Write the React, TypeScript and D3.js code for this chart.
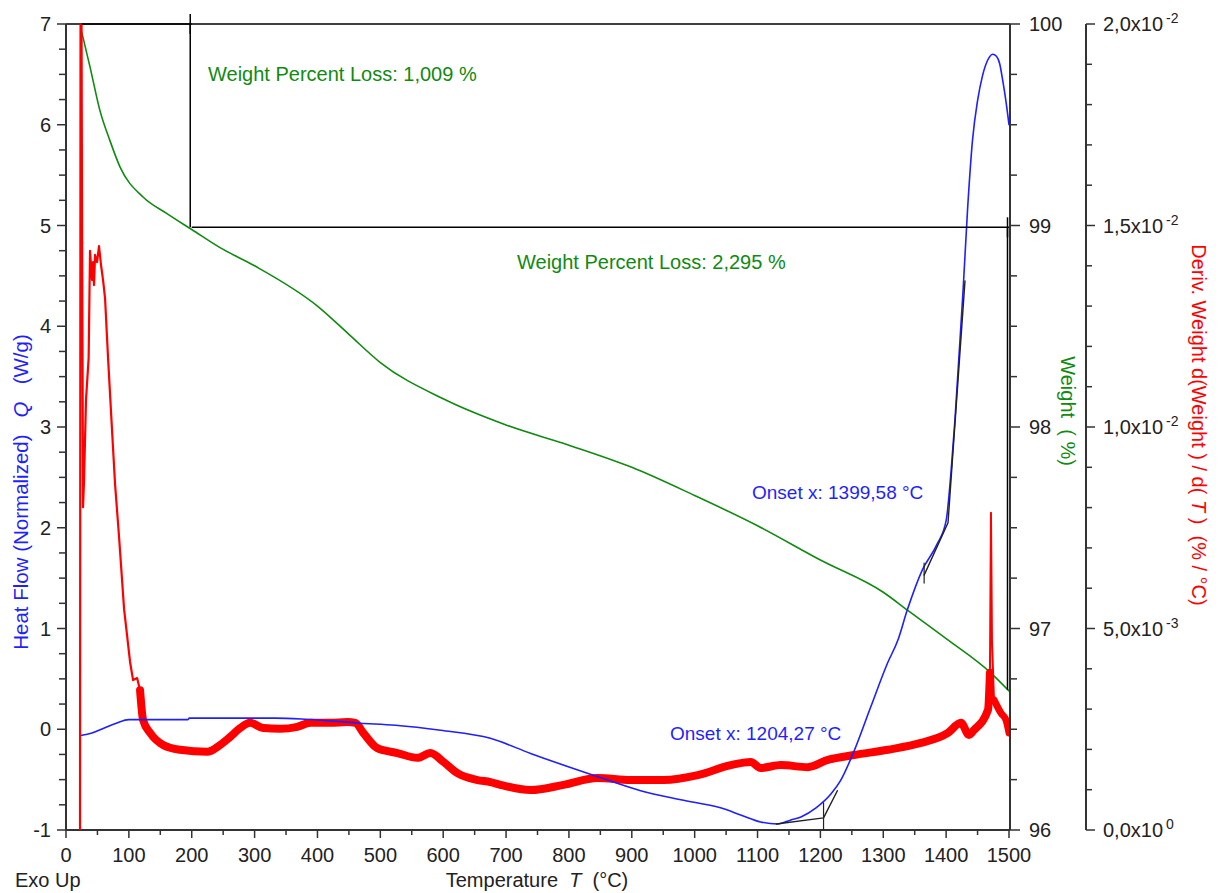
import * as d3 from "d3";
import React from "react";

const width = 1221;
const height = 893;

// heat flow (W/g), left axis
const heatT = [25, 40, 60, 80, 100, 194, 196, 333, 380, 468, 524, 596, 675, 739, 850, 914, 978, 1041, 1073, 1105, 1132, 1153, 1169, 1193, 1217, 1232, 1254, 1280, 1307, 1323, 1338, 1362, 1385, 1400, 1408, 1414, 1420, 1427, 1434, 1442, 1450, 1458, 1466, 1474, 1480, 1485, 1490, 1495, 1500];
const heatFlow = [-0.06, -0.04, 0.01, 0.06, 0.096, 0.096, 0.11, 0.11, 0.1, 0.06, 0.04, -0.01, -0.09, -0.24, -0.48, -0.61, -0.7, -0.78, -0.85, -0.92, -0.94, -0.9, -0.87, -0.78, -0.64, -0.51, -0.21, 0.22, 0.66, 0.88, 1.18, 1.58, 1.83, 2.07, 2.57, 3.07, 3.66, 4.36, 5.15, 5.85, 6.24, 6.49, 6.64, 6.7, 6.68, 6.61, 6.44, 6.24, 6.0];

// weight (%), first right axis
const weightT = [25, 38, 54, 70, 86, 123, 160, 200, 245, 300, 400, 450, 500, 600, 700, 800, 900, 1000, 1100, 1200, 1300, 1339, 1400, 1471, 1500];
const weight = [99.96, 99.79, 99.57, 99.42, 99.29, 99.14, 99.06, 98.98, 98.89, 98.8, 98.6, 98.46, 98.32, 98.14, 98.01, 97.91, 97.8, 97.66, 97.51, 97.34, 97.18, 97.09, 96.95, 96.78, 96.69];

// derivative weight (x1e-3 %/°C), second right axis
const derivT = [22.3, 23.1, 24.7, 25.5, 27.1, 28.7, 31.8, 36, 38.2, 41.4, 43, 44.6, 46.2, 49.4, 52.5, 55.7, 58.9, 62.1, 66.9, 73.2, 78, 84.4, 92.4, 101.9, 106.7, 113.1, 117.8, 122.6, 133.8, 154.5, 181.5, 224.5, 245.2, 261.1, 277.1, 293, 313.7, 340.8, 367.8, 388.5, 420.4, 447.5, 460.2, 472.9, 495.2, 527.1, 558.9, 579.6, 600.3, 622.6, 654.5, 675.2, 691.1, 738.9, 791.4, 845.5, 898.1, 950.6, 1004.8, 1057.3, 1089.2, 1105.1, 1137, 1180, 1211.8, 1253.2, 1307.3, 1359.9, 1402.9, 1423.6, 1436.3, 1444.3, 1466.6, 1469.7, 1471.3, 1472.9, 1476.1, 1487.3, 1495.2, 1500];
const derivE3 = [0, 20, 20, 15.31, 8.01, 8.68, 10.67, 11.71, 14.37, 13.65, 14.09, 13.52, 14.27, 14.09, 14.49, 14.02, 13.65, 13.2, 11.71, 9.93, 8.59, 7.27, 5.48, 4.17, 3.72, 3.77, 3.47, 2.73, 2.41, 2.11, 1.99, 1.94, 2.11, 2.31, 2.53, 2.66, 2.53, 2.51, 2.56, 2.66, 2.66, 2.68, 2.66, 2.41, 2.03, 1.91, 1.79, 1.91, 1.69, 1.41, 1.24, 1.19, 1.12, 0.99, 1.12, 1.29, 1.24, 1.24, 1.36, 1.61, 1.69, 1.54, 1.61, 1.56, 1.74, 1.86, 1.99, 2.16, 2.41, 2.66, 2.36, 2.48, 2.98, 3.9, 7.87, 4.71, 3.23, 2.9, 2.73, 2.41];

// weight loss steps: [T start, T end, W start, W end]
const steps = [
  [25, 200, 100, 98.991],
  [200, 1500, 98.991, 96.696],
];
const stepLabels = ["Weight Percent Loss: 1,009 %", "Weight Percent Loss: 2,295 %"];

// onset tangents (T, heat flow)
const onset1T = [1130, 1205, 1227];
const onset1Q = [-0.94, -0.88, -0.61];
const onset2T = [1365, 1403, 1430];
const onset2Q = [1.53, 2.05, 4.45];
const onsetLabels = ["Onset x: 1204,27 °C", "Onset x: 1399,58 °C"];

const xTicks = [0, 100, 200, 300, 400, 500, 600, 700, 800, 900, 1000, 1100, 1200, 1300, 1400, 1500];
const hfTicks = [-1, 0, 1, 2, 3, 4, 5, 6, 7];
const wTicks = [96, 97, 98, 99, 100];
const dTicks = [0, 5, 10, 15, 20];
const dMant = ["0,0", "5,0", "1,0", "1,5", "2,0"];
const dExp = ["0", "-3", "-2", "-2", "-2"];

const font = "'Liberation Sans', Arial, sans-serif";
const BLUE = "#1f1fff";
const GREEN = "#108a10";
const RED = "#ff0000";
const AXIS = "#333";

export default function App() {
  const x = d3.scaleLinear().domain([0, 1500]).range([66, 1009]);
  const yQ = d3.scaleLinear().domain([-1, 7]).range([830, 24]);
  const yW = d3.scaleLinear().domain([96, 100]).range([830, 24]);
  const yD = d3.scaleLinear().domain([0, 20]).range([830, 24]);

  const line = d3.line<[number, number]>().x((d) => d[0]).y((d) => d[1]);
  const smooth = d3.line<[number, number]>().x((d) => d[0]).y((d) => d[1]).curve(d3.curveMonotoneX);

  const heatPath = smooth(heatT.map((t, i) => [x(t), yQ(heatFlow[i])]));
  const weightPath = smooth(weightT.map((t, i) => [x(t), yW(weight[i])]));
  const derivPts: [number, number][] = derivT.map((t, i) => [x(t), yD(derivE3[i])]);
  // noisy parts drawn with a wide stroke, sharp parts thin
  const derivSegs = [
    { a: 0, b: 27, w: 2.2, c: false },
    { a: 26, b: 73, w: 8, c: true },
    { a: 72, b: 77, w: 2, c: false },
    { a: 76, b: 79, w: 7, c: true },
  ];

  const minorQ = d3.range(-1, 7.001, 0.25);
  const minorW = d3.range(96, 100.001, 0.25);
  const minorD = d3.range(0, 20.001, 1);
  const minorX = d3.range(0, 1500.1, 50);

  const o1 = line(onset1T.map((t, i) => [x(t), yQ(onset1Q[i])]));
  const o2 = line(onset2T.map((t, i) => [x(t), yQ(onset2Q[i])]));

  return (
    <svg
      width={width}
      height={height}
      style={{ position: "absolute", left: 0, top: 0, background: "#fff", fontFamily: font }}
    >
      <defs>
        <clipPath id="plot">
          <rect x={66} y={24} width={943} height={806} />
        </clipPath>
      </defs>

      {/* frame */}
      <line x1={66} x2={1010} y1={24} y2={24} stroke="#000" strokeWidth={1.5} />
      <line x1={66} x2={66} y1={24} y2={830} stroke={AXIS} strokeWidth={2} />
      <line x1={66} x2={1010} y1={830} y2={830} stroke={AXIS} strokeWidth={2} />
      <line x1={1010} x2={1010} y1={24} y2={830} stroke={AXIS} strokeWidth={2} />
      <line x1={1086} x2={1086} y1={24} y2={830} stroke={AXIS} strokeWidth={2} />

      {/* left axis ticks */}
      {minorQ.map((v) => {
        const major = Math.abs(v - Math.round(v)) < 1e-6;
        return <line key={"q" + v} x1={major ? 57 : 59} x2={66} y1={yQ(v)} y2={yQ(v)} stroke={AXIS} strokeWidth={1.5} />;
      })}
      {hfTicks.map((v) => (
        <text key={"ql" + v} x={51} y={yQ(v) + 7} textAnchor="end" fontSize={20} fill="#222">
          {v}
        </text>
      ))}

      {/* bottom axis ticks */}
      {minorX.map((v) => {
        const major = v % 100 === 0;
        return <line key={"x" + v} x1={x(v)} x2={x(v)} y1={830} y2={major ? 838 : 835} stroke={AXIS} strokeWidth={1.5} />;
      })}
      {xTicks.map((v) => (
        <text key={"xl" + v} x={x(v)} y={862} textAnchor="middle" fontSize={20} fill="#222">
          {v}
        </text>
      ))}

      {/* weight axis ticks */}
      {minorW.map((v) => {
        const major = Math.abs(v - Math.round(v)) < 1e-6;
        return <line key={"w" + v} x1={1010} x2={major ? 1020 : 1017} y1={yW(v)} y2={yW(v)} stroke={AXIS} strokeWidth={1.5} />;
      })}
      {wTicks.map((v) => (
        <text key={"wl" + v} x={1029} y={yW(v) + 7} fontSize={20} fill="#222">
          {v}
        </text>
      ))}

      {/* deriv axis ticks */}
      {minorD.map((v) => {
        const major = v % 5 === 0;
        return <line key={"d" + v} x1={1086} x2={major ? 1095 : 1092} y1={yD(v)} y2={yD(v)} stroke={AXIS} strokeWidth={1.5} />;
      })}
      {dTicks.map((v, i) => (
        <text key={"dl" + v} x={1103} y={yD(v) + 7} fontSize={20} fill="#222">
          {dMant[i] + "x10"}
          <tspan dx={3} dy={-8} fontSize={14}>
            {dExp[i]}
          </tspan>
        </text>
      ))}

      {/* curves */}
      <g clipPath="url(#plot)" fill="none" strokeLinejoin="round" strokeLinecap="round">
        <path d={weightPath ?? ""} stroke={GREEN} strokeWidth={1.6} />
        {derivSegs.map((s, i) => (
          <path
            key={i}
            d={(s.c ? smooth : line)(derivPts.slice(s.a, s.b + 1)) ?? ""}
            stroke={RED}
            strokeWidth={s.w}
          />
        ))}
        <path d={heatPath ?? ""} stroke={BLUE} strokeWidth={1.6} />
        <path d={o1 ?? ""} stroke="#222" strokeWidth={1.4} />
        <path d={o2 ?? ""} stroke="#222" strokeWidth={1.4} />
        <line x1={x(onset1T[1])} x2={x(onset1T[1])} y1={yQ(onset1Q[1]) - 15} y2={yQ(onset1Q[1]) + 12} stroke="#222" strokeWidth={1.2} />
        <line x1={x(onset2T[0])} x2={x(onset2T[0])} y1={yQ(onset2Q[0]) - 12} y2={yQ(onset2Q[0]) + 8} stroke="#222" strokeWidth={1.2} />
      </g>

      {/* weight loss steps */}
      {steps.map((s, i) => (
        <g key={"s" + i} stroke="#000" strokeWidth={1.5}>
          <line x1={x(s[0])} x2={x(s[1])} y1={yW(s[2])} y2={yW(s[2])} />
          <line x1={x(s[1]) - 1.5} x2={x(s[1]) - 1.5} y1={yW(s[2])} y2={yW(s[3])} />
          <line x1={x(s[1]) - 1.5} x2={x(s[1]) - 1.5} y1={yW(s[2]) - 10} y2={yW(s[2]) + 10} />
        </g>
      ))}

      {/* annotations */}
      <text x={208} y={81} fontSize={20} fill={GREEN}>{stepLabels[0]}</text>
      <text x={517} y={269} fontSize={20} fill={GREEN}>{stepLabels[1]}</text>
      <text x={670} y={740} fontSize={19} fill={BLUE}>{onsetLabels[0]}</text>
      <text x={752} y={499} fontSize={19} fill={BLUE}>{onsetLabels[1]}</text>

      {/* axis titles */}
      <text x={537} y={887} textAnchor="middle" fontSize={20} fill="#222" style={{ whiteSpace: "pre" }}>
        {"Temperature  "}
        <tspan fontStyle="italic">T</tspan>
        {"  (°C)"}
      </text>
      <text x={15} y={887} fontSize={20} fill="#222">Exo Up</text>
      <text
        transform="translate(28,492) rotate(-90)"
        textAnchor="middle"
        fontSize={20.5}
        fill={BLUE}
        style={{ whiteSpace: "pre" }}
      >
        {"Heat Flow (Normalized)   "}
        <tspan fontStyle="italic">Q</tspan>
        {"   (W/g)"}
      </text>
      <text
        transform="translate(1061,411) rotate(90)"
        textAnchor="middle"
        fontSize={20}
        fill={GREEN}
        style={{ whiteSpace: "pre" }}
      >
        {"Weight  ( %)"}
      </text>
      <text
        transform="translate(1192,425) rotate(90)"
        textAnchor="middle"
        fontSize={20}
        fill={RED}
        style={{ whiteSpace: "pre" }}
      >
        {"Deriv. Weight d(Weight ) / d( "}
        <tspan fontStyle="italic">T</tspan>
        {" )  (% / °C)"}
      </text>
    </svg>
  );
}
